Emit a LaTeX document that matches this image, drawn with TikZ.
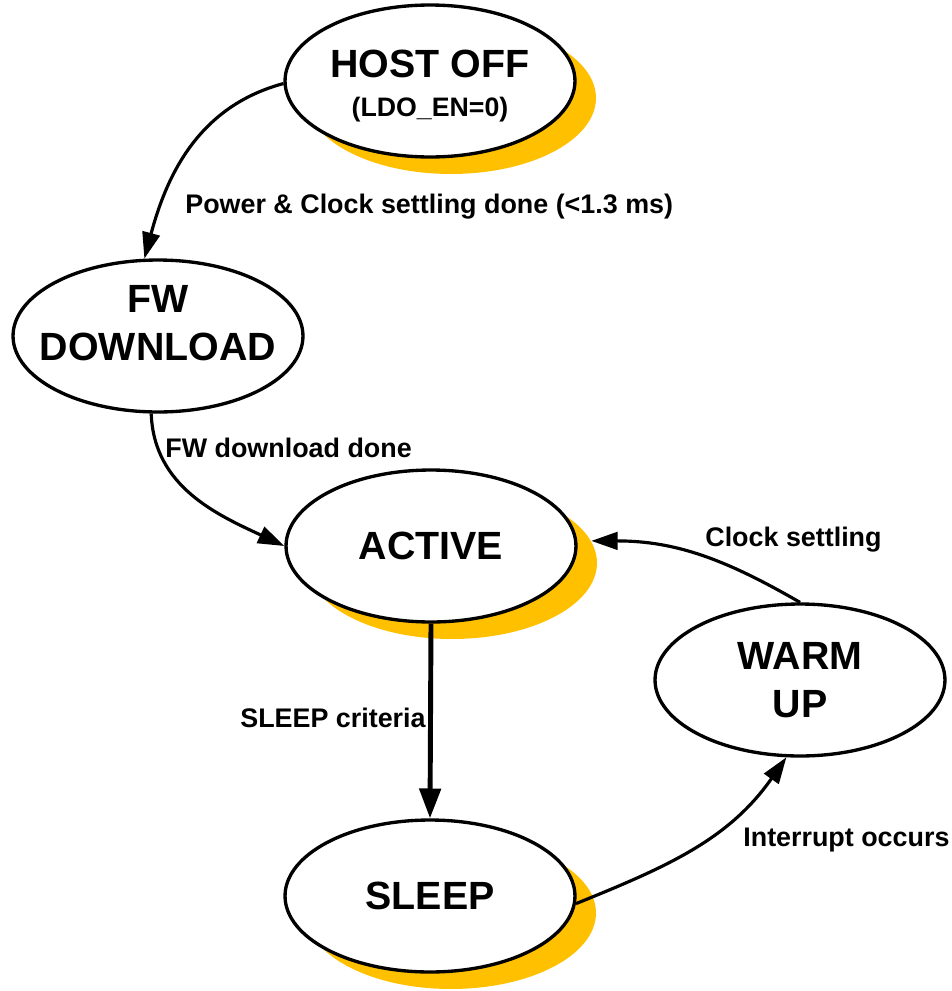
\documentclass[tikz,border=0pt]{standalone}
\usepackage{fontspec}
\setmainfont{Liberation Sans}
\usetikzlibrary{shapes.geometric,shadows,arrows.meta}
\definecolor{shadowgold}{RGB}{255,192,0}
\newcommand{\lowered}[1]{\raisebox{-2.8pt}[\height][\depth]{#1}}
\tikzset{
  state/.style={ellipse, draw, line width=1.9pt, fill=white, minimum width=5.8cm, minimum height=3.04cm,
    inner xsep=-1cm, inner ysep=0pt, align=center, font=\fontsize{22.4}{27}\selectfont\bfseries},
  goldshadow/.style={general shadow={fill=shadowgold, shadow xshift=0.42cm, shadow yshift=-0.34cm}},
  trans/.style={line width=1.8pt, -{Triangle[length=15pt,width=10pt]}},
  cond/.style={anchor=west, inner sep=0pt, font=\fontsize{15.3}{18}\selectfont\bfseries},
}
\begin{document}
\begin{tikzpicture}[x=0.02cm, y=-0.02cm]
\useasboundingbox (0,0) rectangle (952,991);
% states
\node[state, goldshadow] (hostoff) at (430,81) {\lowered{HOST OFF}\\[-5pt]\lowered{\fontsize{15.2}{18}\selectfont (LDO\_EN=0)}};
\node[state] (fw) at (158,336) {\raisebox{0pt}[0pt][0pt]{\begin{tabular}{@{}c@{}}FW\\DOWNLOAD\end{tabular}}};
\node[state, goldshadow] (active) at (431,546) {ACTIVE};
\node[state] (warmup) at (800,680) {WARM\\UP};
\node[state, goldshadow] (sleep) at (430,896) {SLEEP};
% conditions
\node[cond] (pwrdone) at (185,207) {Power \& Clock settling done (<1.3 ms)};
\node[cond] (fwdone) at (165,448) {FW download done};
\node[cond] (clkset) at (705,540) {Clock settling};
\node[cond] (sleepcrit) at (240,718) {SLEEP criteria};
\node[cond] (irq) at (743,840) {Interrupt occurs};
% transitions
\draw[trans] (hostoff.181) to[out=195, in=75] (fw.100);
\draw[trans] (fw.265) to[out=-88, in=155] (active.west);
\draw[trans, line width=2.8pt, -{Triangle[length=17pt,width=12pt]}] (active.south) -- (sleep.north);
\draw[trans] (sleep.-3) to[out=22, in=-125] (warmup.260);
\draw[trans] (warmup.north) to[out=150, in=0] ([xshift=0.28cm]active.2);
\end{tikzpicture}
\end{document}
